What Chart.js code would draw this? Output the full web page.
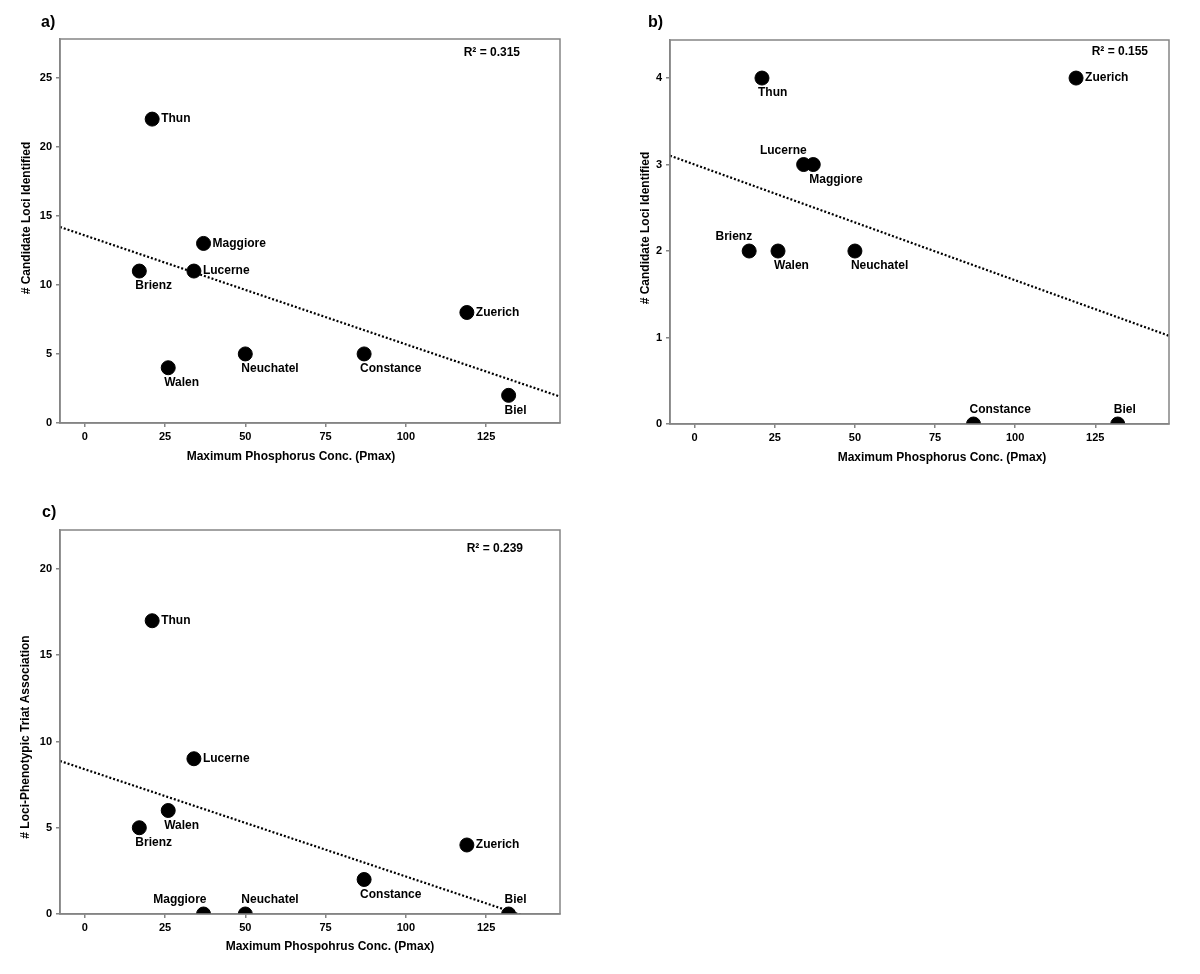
<!DOCTYPE html>
<html>
<head>
<meta charset="utf-8">
<script src="https://cdn.jsdelivr.net/npm/chart.js@4.4.0/dist/chart.umd.min.js"></script>
<style>
  body { margin: 0; background: #fff; }
  #wrap { position: relative; width: 1200px; height: 974px; }
  canvas { position: absolute; }
</style>
</head>
<body>
<div id="wrap">
  <canvas id="chartA" width="600" height="480" style="left:0;top:0"></canvas>
  <canvas id="chartB" width="600" height="480" style="left:600px;top:0"></canvas>
  <canvas id="chartC" width="600" height="484" style="left:0;top:490px"></canvas>
</div>
<script>
// lakes and their max phosphorus concentration
const lakes = ['Brienz', 'Thun', 'Walen', 'Lucerne', 'Maggiore', 'Neuchatel', 'Constance', 'Zuerich', 'Biel'];
const pmax = [17, 21, 26, 34, 37, 50, 87, 119, 132];

// y values per panel
const candidateLociA = [11, 22, 4, 11, 13, 5, 5, 8, 2];
const candidateLociB = [2, 4, 2, 3, 3, 2, 0, 4, 0];
const phenoAssocC = [5, 17, 6, 9, 0, 0, 2, 4, 0];

// ticks
const xTicks = [0, 25, 50, 75, 100, 125];
const yTicksA = [0, 5, 10, 15, 20, 25];
const yTicksB = [0, 1, 2, 3, 4];
const yTicksC = [0, 5, 10, 15, 20];

const r2Text = ['R\u00B2 = 0.315', 'R\u00B2 = 0.155', 'R\u00B2 = 0.239'];

// where each lake name sits relative to its dot
const placeA = ['below', 'right', 'below', 'right', 'right', 'below', 'below', 'right', 'below'];
const placeB = ['aboveLeft', 'below', 'below', 'aboveLeft', 'below', 'below', 'above', 'right', 'above'];
const placeC = ['below', 'right', 'below', 'right', 'aboveLeft', 'above', 'below', 'right', 'above'];

const xMin = -7.7, xMax = 148;
const FONT = '"Liberation Sans", Arial, Helvetica, sans-serif';
const GRAY = '#858585';

function leastSquares(xs, ys) {
  const n = xs.length;
  const mx = xs.reduce((a, b) => a + b, 0) / n;
  const my = ys.reduce((a, b) => a + b, 0) / n;
  let sxy = 0, sxx = 0;
  for (let i = 0; i < n; i++) {
    sxy += (xs[i] - mx) * (ys[i] - my);
    sxx += (xs[i] - mx) * (xs[i] - mx);
  }
  const m = sxy / sxx;
  return { m: m, b: my - m * mx };
}

const decor = {
  id: 'decor',
  afterDraw(chart) {
    const o = chart.options.plugins.decor;
    const ctx = chart.ctx;
    const a = chart.chartArea;
    ctx.save();
    // frame
    ctx.strokeStyle = GRAY;
    ctx.lineWidth = 1.5;
    ctx.strokeRect(a.left, a.top, a.right - a.left, a.bottom - a.top);

    ctx.fillStyle = '#000';
    // lake names
    ctx.font = 'bold 12px ' + FONT;
    ctx.textBaseline = 'middle';
    const pts = chart.getDatasetMeta(0).data;
    pts.forEach((p, i) => {
      const where = o.place[i];
      if (where === 'right') { ctx.textAlign = 'left'; ctx.fillText(lakes[i], p.x + 9, p.y); }
      else if (where === 'below') { ctx.textAlign = 'left'; ctx.fillText(lakes[i], p.x - 4, p.y + 15); }
      else if (where === 'above') { ctx.textAlign = 'left'; ctx.fillText(lakes[i], p.x - 4, p.y - 14); }
      else { ctx.textAlign = 'right'; ctx.fillText(lakes[i], p.x + 3, p.y - 14); }
    });

    // R squared
    ctx.textAlign = 'right';
    ctx.fillText(o.r2, a.right - o.r2dx, a.top + o.r2dy);

    // axis titles
    ctx.textAlign = 'center';
    ctx.fillText(o.xTitle, o.xTitlePos[0], o.xTitlePos[1]);
    ctx.save();
    ctx.translate(o.yTitlePos[0], o.yTitlePos[1]);
    ctx.rotate(-Math.PI / 2);
    ctx.fillText(o.yTitle, 0, 0);
    ctx.restore();

    // panel letter
    ctx.font = 'bold 16px ' + FONT;
    ctx.textAlign = 'left';
    ctx.fillText(o.panel, o.panelPos[0], o.panelPos[1]);
    ctx.restore();
  }
};

function makeChart(id, ys, yTicks, yMax, o) {
  const fit = leastSquares(pmax, ys);
  const tickFont = { family: FONT, size: 11, weight: 'bold' };
  new Chart(document.getElementById(id), {
    type: 'scatter',
    data: {
      datasets: [
        {
          data: pmax.map((x, i) => ({ x: x, y: ys[i] })),
          backgroundColor: '#000',
          borderColor: '#000',
          pointRadius: 7,
          pointHoverRadius: 7,
          clip: 0
        },
        {
          type: 'line',
          data: [{ x: xMin, y: fit.b + fit.m * xMin }, { x: xMax, y: fit.b + fit.m * xMax }],
          borderColor: '#000',
          borderWidth: 2.2,
          borderDash: [2, 2],
          pointRadius: 0,
          fill: false,
          clip: 0
        }
      ]
    },
    options: {
      responsive: false,
      animation: false,
      devicePixelRatio: 1,
      events: [],
      layout: { padding: { top: o.padTop, right: o.padRight, left: 0, bottom: 0 } },
      plugins: {
        legend: { display: false },
        tooltip: { enabled: false },
        decor: o
      },
      scales: {
        x: {
          type: 'linear',
          min: xMin,
          max: xMax,
          afterBuildTicks: s => { s.ticks = xTicks.map(v => ({ value: v })); },
          afterFit: s => { s.height = o.xAxisH; },
          grid: { drawOnChartArea: false, drawTicks: true, tickLength: 4, color: GRAY, lineWidth: 1.5 },
          border: { display: true, color: GRAY, width: 1.5 },
          ticks: { font: tickFont, color: '#000', padding: 3, maxRotation: 0 }
        },
        y: {
          type: 'linear',
          min: 0,
          max: yMax,
          afterBuildTicks: s => { s.ticks = yTicks.map(v => ({ value: v })); },
          afterFit: s => { s.width = o.yAxisW; },
          grid: { drawOnChartArea: false, drawTicks: true, tickLength: 4, color: GRAY, lineWidth: 1.5 },
          border: { display: true, color: GRAY, width: 1.5 },
          ticks: { font: tickFont, color: '#000', padding: 4 }
        }
      }
    },
    plugins: [decor]
  });
}

makeChart('chartA', candidateLociA, yTicksA, 27.8, {
  padTop: 39, padRight: 40, xAxisH: 57, yAxisW: 60,
  place: placeA, r2: r2Text[0], r2dx: 40, r2dy: 14,
  xTitle: 'Maximum Phosphorus Conc. (Pmax)', xTitlePos: [291, 457],
  yTitle: '# Candidate Loci Identified', yTitlePos: [27, 218],
  panel: 'a)', panelPos: [41, 23]
});

makeChart('chartB', candidateLociB, yTicksB, 4.44, {
  padTop: 40, padRight: 31, xAxisH: 56, yAxisW: 70,
  place: placeB, r2: r2Text[1], r2dx: 21, r2dy: 12,
  xTitle: 'Maximum Phosphorus Conc. (Pmax)', xTitlePos: [342, 458],
  yTitle: '# Candidate Loci Identified', yTitlePos: [46, 228],
  panel: 'b)', panelPos: [48, 23]
});

makeChart('chartC', phenoAssocC, yTicksC, 22.26, {
  padTop: 40, padRight: 40, xAxisH: 60, yAxisW: 60,
  place: placeC, r2: r2Text[2], r2dx: 37, r2dy: 19,
  xTitle: 'Maximum Phospohrus Conc. (Pmax)', xTitlePos: [330, 457],
  yTitle: '# Loci-Phenotypic Triat Association', yTitlePos: [26, 247],
  panel: 'c)', panelPos: [42, 23]
});
</script>
</body>
</html>
